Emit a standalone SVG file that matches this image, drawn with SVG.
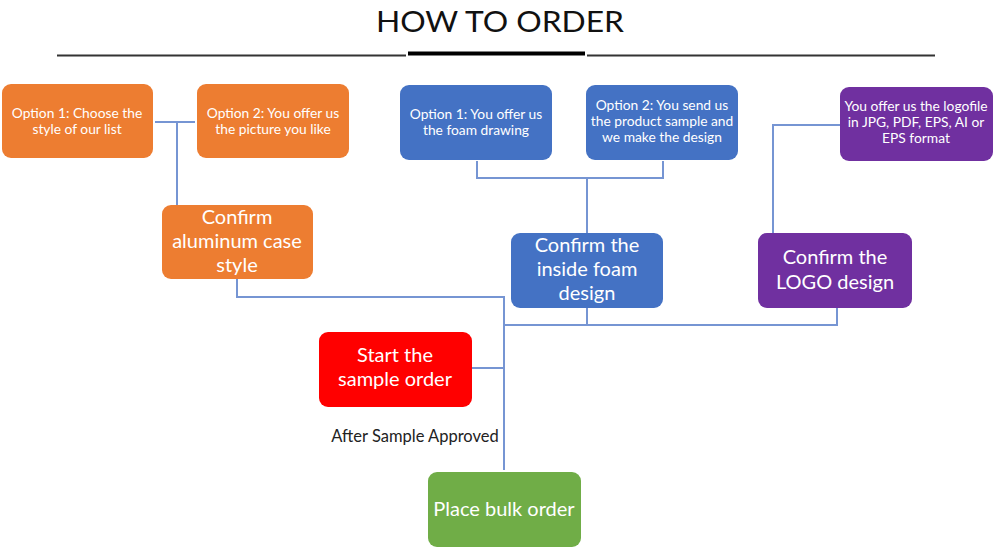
<svg xmlns="http://www.w3.org/2000/svg" width="1000" height="549" viewBox="0 0 1000 549">
<style>
.t{font-family:Lato,"Open Sans","Liberation Sans",sans-serif;fill:#fff;text-anchor:middle}
.s{font-size:13.8px}
.b{font-size:20px}
.c{fill:none;stroke:#7695d3;stroke-width:2}
.or{fill:#ed7d31}.bl{fill:#4472c4}.pu{fill:#7030a0}.rd{fill:#ff0000}.gr{fill:#70ad47}
</style>
<rect width="1000" height="549" fill="#fff"/>
<g id="title">
<text x="500" y="32" font-family="Lato,'Liberation Sans',sans-serif" font-size="29" fill="#111" text-anchor="middle" textLength="248" lengthAdjust="spacingAndGlyphs">HOW TO ORDER</text>
<line x1="57" y1="55.5" x2="406" y2="55.5" stroke="#333" stroke-width="2"/>
<line x1="408" y1="53.5" x2="585" y2="53.5" stroke="#000" stroke-width="4"/>
<line x1="587" y1="55.5" x2="935" y2="55.5" stroke="#333" stroke-width="2"/>
</g>
<g id="connectors">
<path class="c" d="M155 122H195M177 122V205"/>
<path class="c" d="M477 161V178H663V161M587 178V233"/>
<path class="c" d="M840 125H773V233"/>
<path class="c" d="M237 279V297H504V470"/>
<path class="c" d="M587 308V325M504 325H837V308"/>
<path class="c" d="M472 368H504"/>
</g>
<g id="opt1-style">
<rect class="or" x="2" y="84" width="151" height="74" rx="9"/>
<text class="t s" x="77" y="118">Option 1: Choose the</text>
<text class="t s" x="77" y="134">style of our list</text>
</g>
<g id="opt2-picture">
<rect class="or" x="197" y="84" width="152" height="74" rx="9"/>
<text class="t s" x="273" y="118">Option 2: You offer us</text>
<text class="t s" x="273" y="134">the picture you like</text>
</g>
<g id="confirm-case">
<rect class="or" x="162" y="205" width="151" height="74" rx="9"/>
<text class="t b" x="237" y="224">Confirm</text>
<text class="t b" x="237" y="248">aluminum case</text>
<text class="t b" x="237" y="272">style</text>
</g>
<g id="opt1-foam">
<rect class="bl" x="400" y="85" width="152" height="75" rx="9"/>
<text class="t s" x="476" y="119">Option 1: You offer us</text>
<text class="t s" x="476" y="135">the foam drawing</text>
</g>
<g id="opt2-sample">
<rect class="bl" x="586" y="85" width="152" height="75" rx="9"/>
<text class="t s" x="662" y="110">Option 2: You send us</text>
<text class="t s" x="662" y="126">the product sample and</text>
<text class="t s" x="662" y="142">we make the design</text>
</g>
<g id="confirm-foam">
<rect class="bl" x="511" y="233" width="152" height="75" rx="9"/>
<text class="t b" x="587" y="252">Confirm the</text>
<text class="t b" x="587" y="276">inside foam</text>
<text class="t b" x="587" y="300">design</text>
</g>
<g id="logo-file">
<rect class="pu" x="840" y="87" width="153" height="74" rx="9"/>
<text class="t s" x="916" y="111">You offer us the logofile</text>
<text class="t s" x="916" y="127">in JPG, PDF, EPS, AI or</text>
<text class="t s" x="916" y="143">EPS format</text>
</g>
<g id="confirm-logo">
<rect class="pu" x="758" y="233" width="154" height="75" rx="9"/>
<text class="t b" x="835" y="264">Confirm the</text>
<text class="t b" x="835" y="289">LOGO design</text>
</g>
<g id="sample-order">
<rect class="rd" x="319" y="332" width="153" height="75" rx="9"/>
<text class="t b" x="395" y="362">Start the</text>
<text class="t b" x="395" y="386">sample order</text>
</g>
<g id="after-label">
<text x="415" y="442" font-family="Lato,'Liberation Sans',sans-serif" font-size="16.5" fill="#222" text-anchor="middle">After Sample Approved</text>
</g>
<g id="bulk-order">
<rect class="gr" x="428" y="472" width="153" height="75" rx="9"/>
<text class="t b" x="504" y="516">Place bulk order</text>
</g>
</svg>
